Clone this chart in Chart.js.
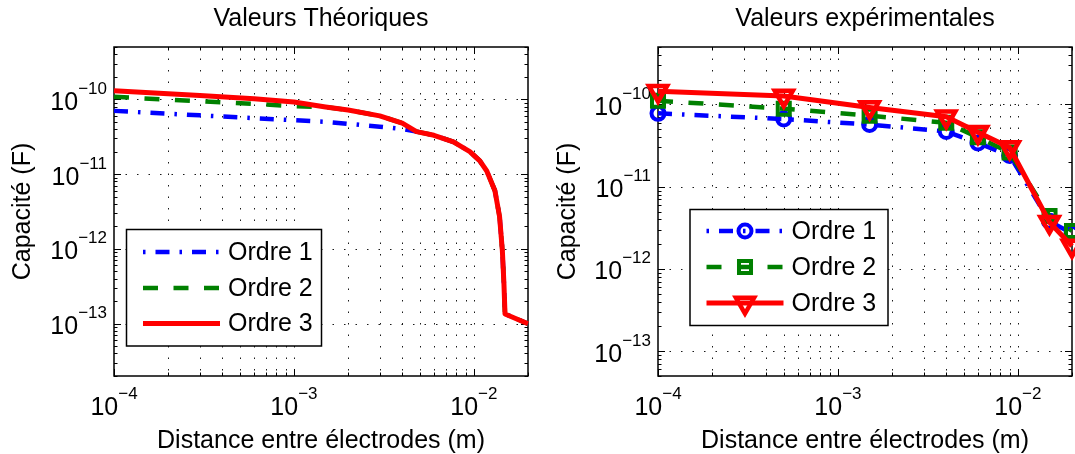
<!DOCTYPE html>
<html lang="fr"><head><meta charset="utf-8"><title>Capacité</title>
<script src="https://cdn.jsdelivr.net/npm/chart.js@4.4.1/dist/chart.umd.min.js"></script>
<style>
html,body{margin:0;padding:0;background:#fff;}
body{width:1075px;height:454px;position:relative;overflow:hidden;}
.pane{position:absolute;top:0;height:454px;}
</style></head><body>
<div class="pane" style="left:0;width:537px"><canvas id="c1" width="537" height="454"></canvas></div>
<div class="pane" style="left:537px;width:538px"><canvas id="c2" width="538" height="454"></canvas></div>
<script>
const FONT = '"Liberation Sans", Arial, Helvetica, sans-serif';

// ---------- data ----------
const seriesLabels = ['Ordre 1', 'Ordre 2', 'Ordre 3'];
const chartTitles = ['Valeurs Théoriques', 'Valeurs expérimentales'];
const xAxisTitle = 'Distance entre électrodes (m)';
const yAxisTitle = 'Capacité (F)';

// Theoretical values (left)
const theoDistance = [1e-4, 3e-4, 6e-4, 1e-3, 1.5e-3, 2e-3, 3e-3, 4e-3, 4.8e-3, 6e-3, 7.7e-3, 9.5e-3, 1.08e-2, 1.18e-2, 1.31e-2, 1.39e-2, 1.44e-2, 1.47e-2, 1.49e-2, 2e-2];
const theoOrdre1 = [7.0e-11, 6.1e-11, 5.6e-11, 5.25e-11, 5.0e-11, 4.7e-11, 4.3e-11, 4.0e-11, 3.7e-11, 3.3e-11, 2.7e-11, 2.0e-11, 1.5e-11, 1.1e-11, 6.0e-12, 2.7e-12, 9.6e-13, 3.4e-13, 1.35e-13, 1.0e-13];
const theoOrdre2 = [1.08e-10, 9.4e-11, 8.7e-11, 8.1e-11, 7.85e-11, 7.2e-11, 6.0e-11, 4.8e-11, 3.7e-11, 3.3e-11, 2.7e-11, 2.0e-11, 1.5e-11, 1.1e-11, 6.0e-12, 2.7e-12, 9.6e-13, 3.4e-13, 1.35e-13, 1.0e-13];
const theoOrdre3 = [1.3e-10, 1.12e-10, 1.02e-10, 9.2e-11, 7.9e-11, 7.2e-11, 6.0e-11, 4.8e-11, 3.7e-11, 3.3e-11, 2.7e-11, 2.0e-11, 1.5e-11, 1.1e-11, 6.0e-12, 2.7e-12, 9.6e-13, 3.4e-13, 1.35e-13, 1.0e-13];

// Experimental values (right)
const expDistance = [1e-4, 5e-4, 1.5e-3, 4e-3, 6e-3, 9e-3, 1.5e-2, 2e-2];
const expOrdre1 = [7.8e-11, 6.65e-11, 5.7e-11, 4.7e-11, 3.4e-11, 2.4e-11, 3.8e-12, 2.7e-12];
const expOrdre2 = [1.11e-10, 8.9e-11, 7.3e-11, 6.0e-11, 4.0e-11, 2.6e-11, 4.4e-12, 2.9e-12];
const expOrdre3 = [1.45e-10, 1.27e-10, 9.2e-11, 7.1e-11, 4.6e-11, 3.0e-11, 3.7e-12, 1.9e-12];

// axis limits and tick labels
const xLimits = [1e-4, 2e-2];
const yLimitsLeft = [2e-14, 5e-10];
const yLimitsRight = [5e-14, 5e-10];
const xTickValues = [1e-4, 1e-3, 1e-2];
const xTickExponents = ['\u22124', '\u22123', '\u22122'];
const yTickValues = [1e-13, 1e-12, 1e-11, 1e-10];
const yTickExponents = ['\u221213', '\u221212', '\u221211', '\u221210'];
const tickBase = '10';

// ---------- helpers ----------
function gridValues(min, max) {
  const vals = [];
  for (let e = Math.floor(Math.log10(min)); e <= Math.ceil(Math.log10(max)); e++) {
    for (let m = 1; m <= 9; m++) {
      const v = m * Math.pow(10, e);
      if (v >= min * 0.999 && v <= max * 1.001) vals.push({ v, major: m === 1 });
    }
  }
  return vals;
}
function pts(xs, ys) { return xs.map((x, i) => ({ x, y: ys[i] })); }

function drawPow(ctx, exp, x, baseline, align) {
  ctx.font = '25px ' + FONT; const wb = ctx.measureText(tickBase).width;
  ctx.font = '17px ' + FONT; const we = ctx.measureText(exp).width;
  const x0 = align === 'right' ? x - wb - we : x - (wb + we) / 2;
  ctx.textAlign = 'left'; ctx.textBaseline = 'alphabetic'; ctx.fillStyle = '#000';
  ctx.font = '25px ' + FONT; ctx.fillText(tickBase, x0, baseline);
  ctx.font = '17px ' + FONT; ctx.fillText(exp, x0 + wb, baseline - 16);
}

const matlabAxes = {
  id: 'matlabAxes',
  beforeDatasetsDraw(chart) {
    const { ctx, chartArea: a } = chart;
    const xs = chart.scales.x, ys = chart.scales.y;
    const xg = gridValues(xs.min, xs.max), yg = gridValues(ys.min, ys.max);
    ctx.save();
    // dotted grid: minor+major verticals, major horizontals
    ctx.strokeStyle = '#1a1a1a'; ctx.lineWidth = 1; ctx.setLineDash([1.5, 10]);
    xg.forEach(t => {
      const px = Math.round(xs.getPixelForValue(t.v)) + 0.5;
      if (px < a.left + 2 || px > a.right - 2) return;
      ctx.beginPath(); ctx.moveTo(px, a.top); ctx.lineTo(px, a.bottom); ctx.stroke();
    });
    yg.forEach(t => {
      if (!t.major) return;
      const py = Math.round(ys.getPixelForValue(t.v)) + 0.5;
      if (py < a.top + 2 || py > a.bottom - 2) return;
      ctx.beginPath(); ctx.moveTo(a.left, py); ctx.lineTo(a.right, py); ctx.stroke();
    });
    ctx.setLineDash([]);
    // inward tick marks on all four sides
    ctx.strokeStyle = '#000'; ctx.lineWidth = 1;
    xg.forEach(t => {
      const px = Math.round(xs.getPixelForValue(t.v)) + 0.5, L = t.major ? 7 : 3.5;
      ctx.beginPath();
      ctx.moveTo(px, a.bottom); ctx.lineTo(px, a.bottom - L);
      ctx.moveTo(px, a.top); ctx.lineTo(px, a.top + L);
      ctx.stroke();
    });
    yg.forEach(t => {
      const py = Math.round(ys.getPixelForValue(t.v)) + 0.5, L = t.major ? 7 : 3.5;
      ctx.beginPath();
      ctx.moveTo(a.left, py); ctx.lineTo(a.left + L, py);
      ctx.moveTo(a.right, py); ctx.lineTo(a.right - L, py);
      ctx.stroke();
    });
    // box
    ctx.lineWidth = 1.5;
    ctx.strokeRect(a.left, a.top, a.right - a.left, a.bottom - a.top);
    // tick labels
    xTickValues.forEach((v, i) => drawPow(ctx, xTickExponents[i], xs.getPixelForValue(v), 415, 'center'));
    yTickValues.forEach((v, i) => {
      if (v < ys.min || v > ys.max) return;
      drawPow(ctx, yTickExponents[i], a.left - 7, ys.getPixelForValue(v) + 10.5, 'right');
    });
    ctx.restore();
  }
};

function drawMarker(ctx, ds, x, y) {
  const r = ds.pointRadius;
  ctx.save();
  ctx.setLineDash([]);
  ctx.strokeStyle = ds.pointBorderColor; ctx.lineWidth = ds.pointBorderWidth;
  ctx.beginPath();
  if (ds.pointStyle === 'circle') {
    ctx.arc(x, y, r, 0, Math.PI * 2);
  } else if (ds.pointStyle === 'rect') {
    const s = Math.SQRT1_2 * r; ctx.rect(x - s, y - s, 2 * s, 2 * s);
  } else if (ds.pointStyle === 'triangle') {
    let rad = (ds.pointRotation || 0) * Math.PI / 180;
    ctx.moveTo(x + Math.sin(rad) * r, y - Math.cos(rad) * r);
    rad += 2 * Math.PI / 3; ctx.lineTo(x + Math.sin(rad) * r, y - Math.cos(rad) * r);
    rad += 2 * Math.PI / 3; ctx.lineTo(x + Math.sin(rad) * r, y - Math.cos(rad) * r);
    ctx.closePath();
  }
  ctx.stroke();
  ctx.restore();
}

const matlabLegend = {
  id: 'matlabLegend',
  afterDatasetsDraw(chart, args, o) {
    if (!o || !o.box) return;
    const ctx = chart.ctx;
    const [bx, by, bw, bh] = o.box;
    ctx.save();
    ctx.fillStyle = '#fff'; ctx.fillRect(bx, by, bw, bh);
    ctx.strokeStyle = '#000'; ctx.lineWidth = 1.5; ctx.strokeRect(bx, by, bw, bh);
    chart.data.datasets.forEach((ds, i) => {
      const y = o.rows[i];
      ctx.save();
      ctx.strokeStyle = ds.borderColor; ctx.lineWidth = ds.borderWidth; ctx.lineCap = 'butt';
      ctx.setLineDash(ds.borderDash || []); ctx.lineDashOffset = ds.legendDashOffset || 0;
      ctx.beginPath(); ctx.moveTo(o.line[0], y); ctx.lineTo(o.line[1], y); ctx.stroke();
      ctx.restore();
      if (ds.pointRadius > 0) drawMarker(ctx, ds, (o.line[0] + o.line[1]) / 2, y);
      ctx.fillStyle = '#000'; ctx.font = '25px ' + FONT; ctx.textAlign = 'left'; ctx.textBaseline = 'middle';
      ctx.fillText(ds.label, o.textX, y + 1);
    });
    ctx.restore();
  }
};

const dashDot = [14, 10, 2.5, 10];
const dashed = [15, 15.5];

function makeChart(id, cfg) {
  return new Chart(document.getElementById(id), {
    type: 'line',
    data: { datasets: cfg.datasets },
    options: {
      responsive: false, animation: false, devicePixelRatio: 1, events: [],
      layout: { autoPadding: false, padding: { left: 0, top: 0, bottom: 0, right: cfg.padRight } },
      elements: { line: { tension: 0, borderCapStyle: 'butt', borderJoinStyle: 'round' } },
      plugins: {
        legend: { display: false }, tooltip: { enabled: false },
        title: { display: true, fullSize: false, text: cfg.title, color: '#000',
          font: { family: FONT, size: 25, weight: 'normal', lineHeight: 1.2 }, padding: { top: 4, bottom: 13 } },
        matlabLegend: cfg.legend
      },
      scales: {
        x: { type: 'logarithmic', min: xLimits[0], max: xLimits[1],
          grid: { display: false }, border: { display: false }, ticks: { display: false },
          afterFit(s) { s.height = 78; },
          title: { display: true, text: xAxisTitle, color: '#000', font: { family: FONT, size: 25, lineHeight: 1 }, padding: { top: 0, bottom: 0 } } },
        y: { type: 'logarithmic', min: cfg.yLimits[0], max: cfg.yLimits[1],
          grid: { display: false }, border: { display: false }, ticks: { display: false },
          afterFit(s) { s.width = cfg.yWidth; },
          title: { display: true, text: yAxisTitle, color: '#000', font: { family: FONT, size: 25, lineHeight: 1.2 }, padding: { top: cfg.yTitlePad, bottom: 0 } } }
      }
    },
    plugins: [matlabAxes, matlabLegend]
  });
}

makeChart('c1', {
  title: chartTitles[0], padRight: 9, yWidth: 114, yTitlePad: 8.5, yLimits: yLimitsLeft,
  legend: { box: [126.5, 229.5, 195, 116.5], line: [143, 220], textX: 228, rows: [252, 288, 323.5] },
  datasets: [
    { label: seriesLabels[0], data: pts(theoDistance, theoOrdre1), borderColor: '#0000ff', borderWidth: 4.5, borderDash: dashDot, legendDashOffset: 24, pointRadius: 0, order: 3, clip: false },
    { label: seriesLabels[1], data: pts(theoDistance, theoOrdre2), borderColor: '#008000', borderWidth: 4.5, borderDash: dashed, pointRadius: 0, order: 2, clip: false },
    { label: seriesLabels[2], data: pts(theoDistance, theoOrdre3), borderColor: '#ff0000', borderWidth: 5, pointRadius: 0, order: 1, clip: false }
  ]
});

makeChart('c2', {
  title: chartTitles[1], padRight: 3, yWidth: 121, yTitlePad: 16.5, yLimits: yLimitsRight,
  legend: { box: [153, 209.5, 198, 116], line: [169.5, 246.5], textX: 254.5, rows: [231, 267, 303] },
  datasets: [
    { label: seriesLabels[0], data: pts(expDistance, expOrdre1), borderColor: '#0000ff', borderWidth: 4.5, borderDash: dashDot, legendDashOffset: 24,
      pointStyle: 'circle', pointRadius: 6.5, pointBorderWidth: 4, pointBorderColor: '#0000ff', pointBackgroundColor: 'rgba(0,0,0,0)', order: 3, clip: false },
    { label: seriesLabels[1], data: pts(expDistance, expOrdre2), borderColor: '#008000', borderWidth: 4.5, borderDash: dashed,
      pointStyle: 'rect', pointRadius: 8.5, pointBorderWidth: 4, pointBorderColor: '#008000', pointBackgroundColor: 'rgba(0,0,0,0)', order: 2, clip: false },
    { label: seriesLabels[2], data: pts(expDistance, expOrdre3), borderColor: '#ff0000', borderWidth: 5,
      pointStyle: 'triangle', pointRotation: 180, pointRadius: 10.5, pointBorderWidth: 4.5, pointBorderColor: '#ff0000', pointBackgroundColor: 'rgba(0,0,0,0)', order: 1, clip: false }
  ]
});
</script>
</body></html>
